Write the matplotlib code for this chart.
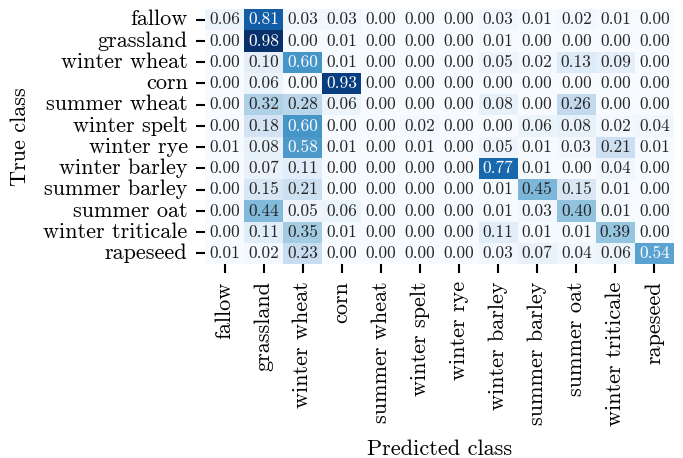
import matplotlib
matplotlib.use("Agg")
import matplotlib.pyplot as plt
import numpy as np
import seaborn as sns

CLASS_NAMES = [
    "fallow", "grassland", "winter wheat", "corn", "summer wheat", "winter spelt",
    "winter rye", "winter barley", "summer barley", "summer oat", "winter triticale", "rapeseed",
]

# rows = true class, cols = predicted class (row-normalised)
fallow = [0.06, 0.81, 0.03, 0.03, 0.00, 0.00, 0.00, 0.03, 0.01, 0.02, 0.01, 0.00]
grassland = [0.00, 0.98, 0.00, 0.01, 0.00, 0.00, 0.00, 0.01, 0.00, 0.00, 0.00, 0.00]
winter_wheat = [0.00, 0.10, 0.60, 0.01, 0.00, 0.00, 0.00, 0.05, 0.02, 0.13, 0.09, 0.00]
corn = [0.00, 0.06, 0.00, 0.93, 0.00, 0.00, 0.00, 0.00, 0.00, 0.00, 0.00, 0.00]
summer_wheat = [0.00, 0.32, 0.28, 0.06, 0.00, 0.00, 0.00, 0.08, 0.00, 0.26, 0.00, 0.00]
winter_spelt = [0.00, 0.18, 0.60, 0.00, 0.00, 0.02, 0.00, 0.00, 0.06, 0.08, 0.02, 0.04]
winter_rye = [0.01, 0.08, 0.58, 0.01, 0.00, 0.01, 0.00, 0.05, 0.01, 0.03, 0.21, 0.01]
winter_barley = [0.00, 0.07, 0.11, 0.00, 0.00, 0.00, 0.00, 0.77, 0.01, 0.00, 0.04, 0.00]
summer_barley = [0.00, 0.15, 0.21, 0.00, 0.00, 0.00, 0.00, 0.01, 0.45, 0.15, 0.01, 0.00]
summer_oat = [0.00, 0.44, 0.05, 0.06, 0.00, 0.00, 0.00, 0.01, 0.03, 0.40, 0.01, 0.00]
winter_triticale = [0.00, 0.11, 0.35, 0.01, 0.00, 0.00, 0.00, 0.11, 0.01, 0.01, 0.39, 0.00]
rapeseed = [0.01, 0.02, 0.23, 0.00, 0.00, 0.00, 0.00, 0.03, 0.07, 0.04, 0.06, 0.54]

cm = np.array([
    fallow, grassland, winter_wheat, corn, summer_wheat, winter_spelt,
    winter_rye, winter_barley, summer_barley, summer_oat, winter_triticale, rapeseed,
])

plt.rcParams["font.family"] = "serif"
plt.rcParams["font.serif"] = ["cmr10"]
plt.rcParams["mathtext.fontset"] = "cm"
plt.rcParams["axes.unicode_minus"] = False

fig = plt.figure(figsize=(6.83, 4.58), dpi=100)
ax = fig.add_axes([205 / 683, 1 - 264 / 458, 469 / 683, 255 / 458])

sns.heatmap(cm, annot=True, fmt=".2f", cmap="Blues", cbar=False,
            xticklabels=CLASS_NAMES, yticklabels=CLASS_NAMES,
            annot_kws={"fontsize": 12.5}, ax=ax)

ax.tick_params(axis="both", length=6.5, width=1.5, pad=6, labelsize=16, color="black")
ax.set_xticklabels(CLASS_NAMES, rotation=90)
ax.set_yticklabels(CLASS_NAMES, rotation=0)
ax.set_xlabel("Predicted class", fontsize=16)
ax.set_ylabel("True class", fontsize=16)
ax.xaxis.label.set_va("center")
ax.xaxis.set_label_coords(0.5, -0.725)
ax.yaxis.label.set_va("center")
ax.yaxis.set_label_coords(-0.394, 0.5)

fig.savefig("out.png", dpi=100)
